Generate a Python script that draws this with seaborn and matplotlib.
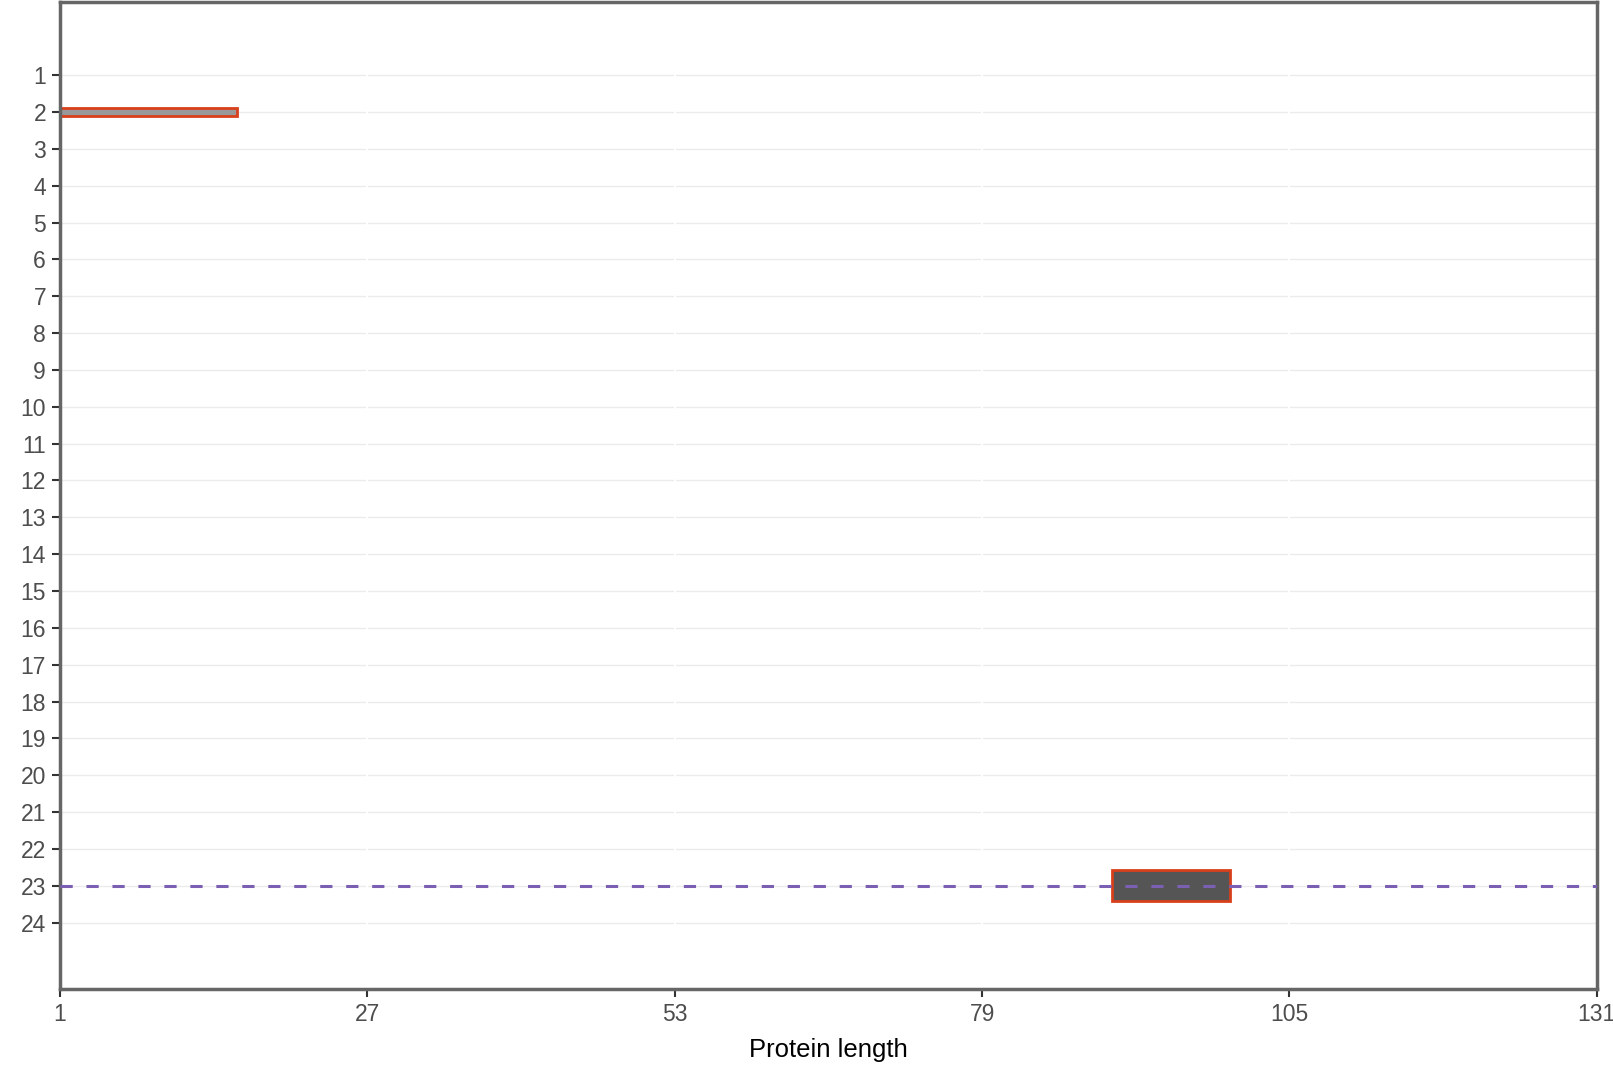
import matplotlib
matplotlib.use("Agg")
import matplotlib.pyplot as plt
import seaborn as sns
import pandas as pd

# domain segments along the protein
track = [2, 23]
start = [1, 90]
end = [16, 100]
fill = ["#999999", "#555555"]
thick = [0.22, 0.84]

rows = list(range(1, 25))
x_ticks = [1, 27, 53, 79, 105, 131]
marker_row = 23

df = pd.DataFrame({"track": track, "start": start, "end": end})

sns.set_theme(style="white")
plt.rcParams["font.family"] = ["Liberation Sans", "DejaVu Sans"]

fig = plt.figure(figsize=(16.13, 10.67), dpi=100)
ax = fig.add_axes([0.0372, 0.0731, 0.9528, 0.9249])

# horizontal grid for each row
for r in rows:
    ax.axhline(r, color="#ebebeb", lw=1, zorder=0)
for t in x_ticks:
    ax.axvline(t, color="white", lw=1.5, zorder=0.5)

ax.barh(df["track"], df["end"] - df["start"], left=df["start"], height=thick,
        color=fill, edgecolor="#d8401c", linewidth=2, zorder=2)

ax.axhline(marker_row, color="#7b5fb3", lw=2.2, ls=(0, (4, 4.5)), zorder=3)

ax.set_xlim(1, 131)
ax.set_ylim(25.8, -0.98)
ax.set_xticks(x_ticks)
ax.set_yticks(rows)
ax.set_yticklabels([str(r) for r in rows])
ax.tick_params(axis="both", direction="out", length=6, width=1.5, color="#333333",
               labelsize=16.5, labelcolor="#4d4d4d", pad=4,
               left=True, bottom=True)
ax.set_xlabel("Protein length", fontsize=18.5, color="black", labelpad=9)
ax.set_ylabel("")
for s in ax.spines.values():
    s.set_color("#666666")
    s.set_linewidth(2.5)

fig.savefig("out.png", dpi=100)
